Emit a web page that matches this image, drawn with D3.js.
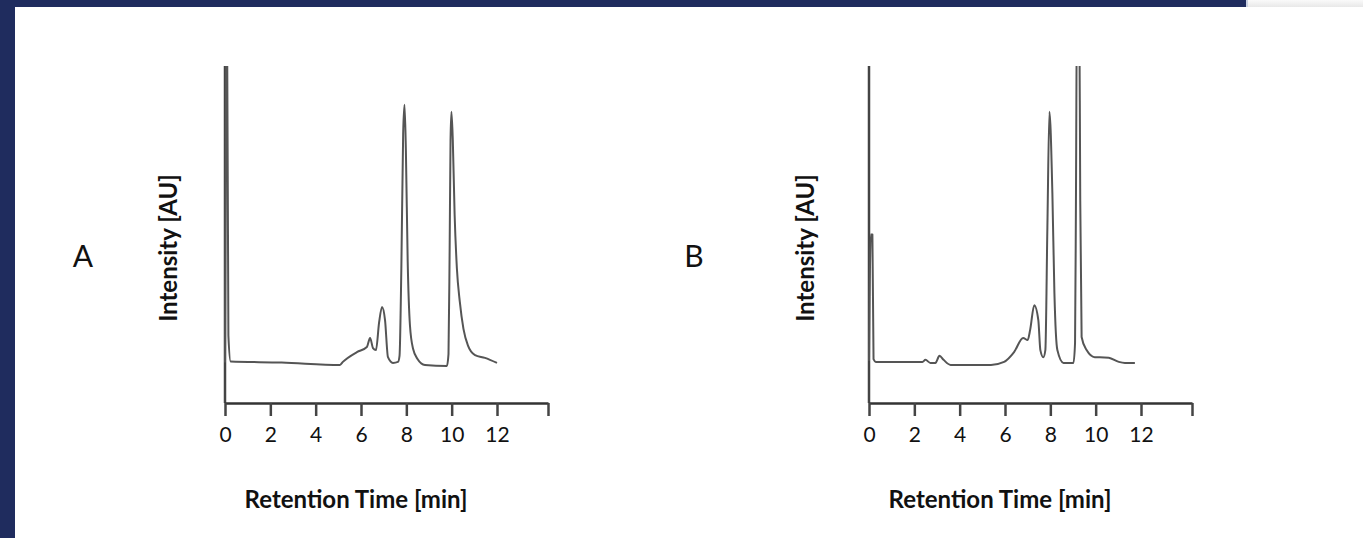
<!DOCTYPE html>
<html>
<head>
<meta charset="utf-8">
<script src="https://cdn.jsdelivr.net/npm/d3@7"></script>
<style>
  html, body { margin: 0; padding: 0; background: #fff; }
  svg { display: block; }
  text { font-family: Lato, "Open Sans", sans-serif; fill: #111; }
</style>
</head>
<body>
<svg id="chart" width="1363" height="538"></svg>
<script>

// retention time [min] / intensity [AU, 0..100 = top of the plot]
var timesA = [0.0, 0.03, 0.06, 0.09, 0.15, 0.25, 2.5, 5.07, 5.2, 5.82, 6.26, 6.4, 6.53, 6.66, 6.8, 6.93, 7.06, 7.19, 7.41, 7.63,
              7.7, 7.78, 7.86, 7.92, 7.98, 8.06, 8.16, 8.3, 8.5, 8.82, 9.79, 9.86, 9.91, 9.95, 9.99, 10.05, 10.13, 10.23, 10.36,
              10.52, 10.72, 11.03, 11.47, 12.0];
var intensityA = [12, 60, 115, 115, 20, 12.3, 12, 11.3, 12.2, 15.1, 16.6, 19.3, 16.3, 15.7, 24, 28.5, 24.6, 13.6, 11.9, 12.2,
                  14, 40, 80, 88.5, 75, 42, 23, 16, 13, 11.3, 11.0, 14.5, 45, 78, 86.4, 78, 56, 40, 30,
                  22, 17, 14.2, 13.4, 11.9];

var timesB = [0.0, 0.08, 0.11, 0.15, 0.2, 0.3, 2.36, 2.49, 2.71, 2.93, 3.11, 3.29, 3.6, 5.38, 5.96, 6.4, 6.8, 7.0, 7.11, 7.29,
              7.47, 7.56, 7.69, 7.78, 7.87, 7.96, 8.09, 8.18, 8.31, 8.58, 9.02, 9.09, 9.13, 9.18, 9.27, 9.32, 9.38, 9.6, 9.96,
              10.18, 10.58, 11.02, 11.29, 11.73];
var intensityB = [12.5, 50, 50, 50, 13, 12.2, 12.2, 12.8, 11.9, 11.9, 14, 12.8, 11.3, 11.3, 12.2, 15.1, 19.3, 18.7, 21.7, 29,
                  24.6, 15.7, 13.6, 15.7, 52.2, 86.4, 62.3, 32.6, 15.7, 11.9, 11.9, 17.8, 60, 125, 125, 60, 19.6, 15.7, 13.6,
                  13.6, 13.4, 12.2, 11.9, 11.9];

var tickValues = [0, 2, 4, 6, 8, 10, 12, 14.25];
var tickLabels = ['0', '2', '4', '6', '8', '10', '12', ''];

var panels = [
  { id: 'A', times: timesA, values: intensityA, originX: 225, letterX: 83, yLabelX: 177 },
  { id: 'B', times: timesB, values: intensityB, originX: 869, letterX: 694, yLabelX: 814 }
];

var svg = d3.select('#chart'),
    plotTop = 66,
    plotBottom = 403,
    plotWidth = 323,
    navy = '#1f2c5e';

// page frame: navy bars on the left and along the top
svg.append('rect').attr('x', 0).attr('y', 0).attr('width', 1363).attr('height', 538).attr('fill', '#fff');
svg.append('rect').attr('x', 0).attr('y', 0).attr('width', 15).attr('height', 538).attr('fill', navy);
svg.append('rect').attr('x', 0).attr('y', 0).attr('width', 1246).attr('height', 7).attr('fill', navy);
svg.append('rect').attr('x', 1246).attr('y', 0).attr('width', 2).attr('height', 7).attr('fill', '#c9d0e0');

var grad = svg.append('defs').append('linearGradient')
  .attr('id', 'strip').attr('x1', 0).attr('y1', 0).attr('x2', 0).attr('y2', 1);
grad.append('stop').attr('offset', '0%').attr('stop-color', '#fafafa');
grad.append('stop').attr('offset', '100%').attr('stop-color', '#e8e8e8');
svg.append('rect').attr('x', 1248).attr('y', 0).attr('width', 115).attr('height', 7).attr('fill', 'url(#strip)');

panels.forEach(function(p) {
  var x = d3.scaleLinear().domain([0, 14.25]).range([p.originX, p.originX + plotWidth]),
      y = d3.scaleLinear().domain([0, 100]).range([plotBottom, plotTop]),
      g = svg.append('g').attr('class', 'panel-' + p.id),
      clipId = 'clip-' + p.id;

  svg.select('defs').append('clipPath').attr('id', clipId)
    .append('rect')
      .attr('x', p.originX - 2).attr('y', plotTop)
      .attr('width', plotWidth + 4).attr('height', plotBottom - plotTop);

  // y axis: bare line, no ticks
  g.append('line')
    .attr('x1', x(0)).attr('x2', x(0))
    .attr('y1', plotTop).attr('y2', plotBottom)
    .attr('stroke', '#444').attr('stroke-width', 2.5);

  var xAxis = d3.axisBottom(x)
    .tickValues(tickValues)
    .tickFormat(function(d, i) { return tickLabels[i]; })
    .tickSize(13)
    .tickSizeOuter(0)
    .tickPadding(11);

  var ax = g.append('g')
    .attr('transform', 'translate(0,' + plotBottom + ')')
    .call(xAxis);

  ax.select('.domain').attr('stroke', '#333').attr('stroke-width', 2.5);
  ax.selectAll('.tick line').attr('stroke', '#444').attr('stroke-width', 2.5);
  ax.selectAll('.tick text')
    .attr('fill', '#111')
    .style('font-family', 'Lato, "Open Sans", sans-serif')
    .style('font-size', '21px');

  var points = p.times.map(function(t, i) { return [t, p.values[i]]; });

  var line = d3.line()
    .x(function(d) { return x(d[0]); })
    .y(function(d) { return y(d[1]); })
    .curve(d3.curveMonotoneX);

  g.append('path')
    .datum(points)
    .attr('clip-path', 'url(#' + clipId + ')')
    .attr('fill', 'none')
    .attr('stroke', '#555')
    .attr('stroke-width', 2)
    .attr('stroke-linejoin', 'round')
    .attr('d', line);

  g.append('text')
    .attr('x', p.originX + 131)
    .attr('y', 508)
    .attr('text-anchor', 'middle')
    .style('font-size', '24px')
    .style('font-weight', 'bold')
    .text('Retention Time [min]');

  g.append('text')
    .attr('transform', 'translate(' + p.yLabelX + ',248) rotate(-90)')
    .attr('text-anchor', 'middle')
    .style('font-size', '24px')
    .style('font-weight', 'bold')
    .text('Intensity [AU]');

  g.append('text')
    .attr('x', p.letterX)
    .attr('y', 267)
    .attr('text-anchor', 'middle')
    .style('font-size', '30px')
    .text(p.id);
});

</script>
</body>
</html>
